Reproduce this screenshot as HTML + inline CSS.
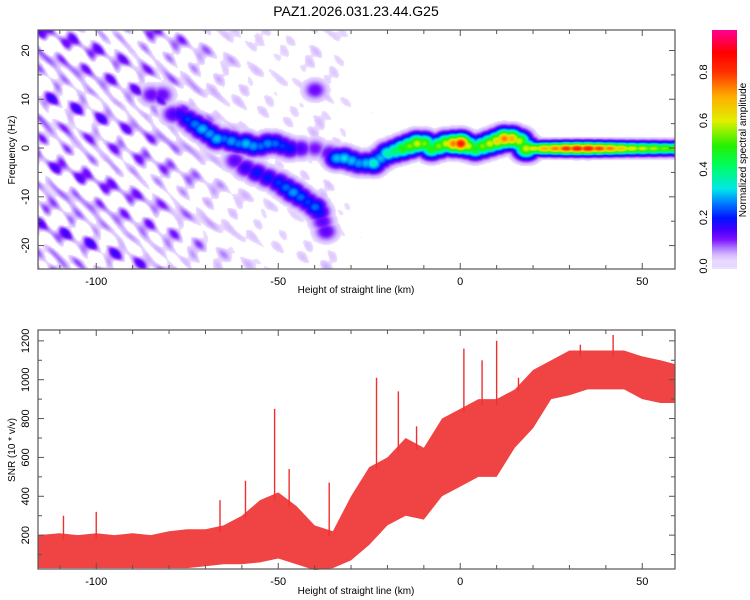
<!DOCTYPE html>
<html><head><meta charset="utf-8"><style>
body{margin:0;background:#fff;width:750px;height:600px;overflow:hidden;font-family:"Liberation Sans",sans-serif}
#wrap{position:relative;width:750px;height:600px}
canvas{position:absolute}
svg{position:absolute;left:0;top:0}
text{font-family:"Liberation Sans",sans-serif;fill:#000}
</style></head><body>
<div id="wrap">
<canvas id="heat" width="637" height="239" style="left:38px;top:30px"></canvas>
<canvas id="cbar" width="25" height="239" style="left:712px;top:30px"></canvas>
<svg id="svg" width="750" height="600"></svg>
</div>
<script>
// ---- data ----
const ridgeH=[-85,-82,-79,-77,-75,-73,-71,-69,-67,-65,-63,-61,-59,-57,-55,-53,-51,-49,-47,-44,-40,-36,-34,-32,-30,-28,-26,-24,-22,-20,-18,-16,-14,-12,-10,-8,-6,-4,-2,0,2,4,6,8,10,12,14,16,18,20,23,26,29,32,35,38,41,44,47,50,53,56,59,-62,-59,-56,-53,-50,-48,-46,-44,-42,-40,-39,-38,-37,-40];
const ridgeF=[11,11,7,7,6,5,4,3,2,2,1.5,1,1,0.5,0.5,1,1,0.5,0,0,0,-1,-2,-2,-2.5,-3,-3,-3,-2,-1,-0.5,0,0.5,1,1,0,0.5,1,1,1,0.5,0,0.5,1,1.5,2,2,1.5,0,0,0,0,0,0,0,0,0,0,0,0,0,0,0,-2.5,-4,-5,-6,-7,-8,-9,-10,-11,-12,-13,-15,-17,12];
const ridgeA=[0.13,0.13,0.15,0.17,0.22,0.26,0.3,0.28,0.3,0.25,0.28,0.26,0.3,0.28,0.25,0.27,0.25,0.22,0.2,0.15,0.12,0.14,0.3,0.32,0.3,0.28,0.3,0.35,0.3,0.38,0.42,0.5,0.55,0.6,0.55,0.5,0.55,0.6,0.75,0.85,0.6,0.5,0.55,0.6,0.65,0.75,0.7,0.6,0.6,0.62,0.7,0.75,0.82,0.85,0.85,0.8,0.75,0.68,0.62,0.6,0.58,0.55,0.55,0.14,0.17,0.2,0.2,0.22,0.25,0.28,0.25,0.22,0.25,0.2,0.14,0.14,0.13];
const hazeH=[-116,-100,-85,-75,-65,-55,-45,-38,-30,-20,0,59];
const hazeLevel=[0.1,0.1,0.09,0.07,0.045,0.03,0.025,0.04,0.015,0.01,0.007,0.007];
const snrH=[-116,-110,-105,-100,-95,-90,-85,-80,-75,-70,-65,-60,-55,-50,-45,-40,-35,-30,-25,-20,-15,-10,-5,0,5,10,15,20,25,30,35,40,45,50,55,59];
const snrLow=[30,30,30,30,30,30,30,30,30,40,50,50,60,80,50,20,30,70,150,250,300,280,400,450,500,500,650,750,900,920,950,950,950,900,880,880];
const snrHigh=[200,210,200,210,200,210,200,220,230,230,250,300,380,420,350,250,220,400,550,600,700,650,800,850,900,900,950,1050,1100,1150,1150,1150,1150,1120,1100,1080];
const spikeH=[-109,-100,-66,-59,-51,-47,-36,-23,-17,-12,1,6,10,16,33,42];
const spikeV=[300,320,380,480,850,540,470,1010,940,760,1160,1100,1200,1010,1180,1230];
const xTicks=[-100,-50,0,50];
const fTicks=[20,10,0,-10,-20];
const snrTicks=[200,400,600,800,1000,1200];
const cbTicks=[0,0.2,0.4,0.6,0.8];
// ---- scales ----
const XL=38,XR=675,X0=-116,X1=59;
const sx=v=>XL+(v-X0)/(X1-X0)*(XR-XL);
const T1=30,B1=269,F0=-24.8,F1=24.2;
const sf=v=>B1-(v-F0)/(F1-F0)*(B1-T1);
const T2=330,B2=569;
const sy=v=>574-v*0.1943;
const sc=v=>266-v*242.5;
const stops=[[0,[255,255,255]],[0.02,[236,222,255]],[0.05,[212,182,255]],[0.08,[165,110,255]],[0.11,[128,20,255]],[0.15,[70,0,255]],[0.2,[0,20,255]],[0.27,[0,140,255]],[0.32,[0,232,232]],[0.42,[0,255,90]],[0.5,[40,240,0]],[0.6,[225,240,0]],[0.7,[255,175,0]],[0.8,[255,50,0]],[0.88,[255,0,0]],[0.97,[255,0,140]]];
function cmap(v){if(v<=0)return stops[0][1];for(let i=1;i<stops.length;i++){if(v<=stops[i][0]){const a=stops[i-1],b=stops[i],t=(v-a[0])/(b[0]-a[0]);return a[1].map((c,k)=>Math.round(c+(b[1][k]-c)*t));}}return stops[stops.length-1][1];}
function lerpArr(hs,vs,h){if(h<=hs[0])return vs[0];for(let i=1;i<hs.length;i++){if(h<=hs[i]){const t=(h-hs[i-1])/(hs[i]-hs[i-1]);return vs[i-1]+(vs[i]-vs[i-1])*t;}}return vs[vs.length-1];}
// heatmap
(function(){const c=document.getElementById('heat'),ctx=c.getContext('2d'),W=c.width,H=c.height,img=ctx.createImageData(W,H);
for(let py=0;py<H;py++){const f=F1-(py/H)*(F1-F0);for(let px=0;px<W;px++){const h=X0+px/W*(X1-X0);let v=0;
for(let i=0;i<ridgeH.length;i++){const wide=ridgeH[i]>18;const dx=(h-ridgeH[i])/(wide?3.0:2.2),df=(f-ridgeF[i])/(wide?0.9:1.4);const g=ridgeA[i]*Math.exp(-(dx*dx+df*df)/2);if(g>v)v=g;}
const lv=lerpArr(hazeH,hazeLevel,h);
const t=(Math.sin(px*0.23+py*0.07)+Math.sin(py*0.29-px*0.11+1.7)+Math.sin((px+py)*0.17+0.6)+Math.sin(px*0.41-py*0.37+2.3)+Math.sin(px*0.067-py*0.19+0.9))/5;
const hz=lv*Math.max(0,t+0.2)*1.5;if(hz>v)v=hz;
const col=v<0.02?[255,255,255]:cmap(v);const o=(py*W+px)*4;img.data[o]=col[0];img.data[o+1]=col[1];img.data[o+2]=col[2];img.data[o+3]=255;}}
ctx.putImageData(img,0,0);
const cb=document.getElementById('cbar'),cx=cb.getContext('2d');for(let y=0;y<cb.height;y++){const v=(266-(30+y))/242.5;const col=v<0?[235,225,255]:cmap(Math.max(v,0.025));cx.fillStyle=`rgb(${col})`;cx.fillRect(0,y,25,1);}})();
// svg
const svg=document.getElementById('svg');const NS='http://www.w3.org/2000/svg';
function el(tag,attrs,parent){const e=document.createElementNS(NS,tag);for(const k in attrs)e.setAttribute(k,attrs[k]);(parent||svg).appendChild(e);return e;}
function txt(s,x,y,size,anchor,rot,name){const e=el('text',{x:x,y:y,'font-size':size,'text-anchor':anchor||'middle'});if(rot)e.setAttribute('transform',`rotate(-90 ${x} ${y})`);e.textContent=s;


return e;}
// SNR band
let pts=snrH.map((h,i)=>sx(h)+','+sy(snrHigh[i]));for(let i=snrH.length-1;i>=0;i--)pts.push(sx(snrH[i])+','+sy(snrLow[i]));
const band=el('polygon',{points:pts.join(' '),fill:'#ee3030','fill-opacity':'0.9'});


spikeH.forEach((h,i)=>{const base=lerpArr(snrH,snrHigh,h)-30;const s=el('line',{x1:sx(h),x2:sx(h),y1:sy(spikeV[i]),y2:sy(base),stroke:'#ee3030','stroke-width':1.4});

});
// frames and ticks
function frame(top,bot,name){const r=el('rect',{x:XL,y:top,width:XR-XL,height:bot-top,fill:'none',stroke:'#555','stroke-width':1.2});


for(let v=-110;v<=50;v+=10){const x=sx(v),m=v%50===0;const len=m?6:4;el('line',{x1:x,x2:x,y1:bot,y2:bot-len,stroke:'#555'});el('line',{x1:x,x2:x,y1:top,y2:top+len,stroke:'#555'});}}
frame(T1,B1,'spectrogram-frame');frame(T2,B2,'snr-frame');
for(let v=-20;v<=20;v+=5){const y=sf(v),len=v%10===0?6:4;el('line',{x1:XL,x2:XL+len,y1:y,y2:y,stroke:'#555'});el('line',{x1:XR,x2:XR-len,y1:y,y2:y,stroke:'#555'});}
for(let v=100;v<=1200;v+=100){const y=sy(v),len=v%200===0?6:4;el('line',{x1:XL,x2:XL+len,y1:y,y2:y,stroke:'#555'});el('line',{x1:XR,x2:XR-len,y1:y,y2:y,stroke:'#555'});}
xTicks.forEach(v=>{txt(String(v),sx(v),285,11,'middle',0,'x-tick-label');txt(String(v),sx(v),585,11,'middle',0,'x-tick-label');});
fTicks.forEach(v=>txt(String(v),29,sf(v),11,'middle',1,'y-tick-label'));
snrTicks.forEach(v=>txt(String(v),29,sy(v),11,'middle',1,'snr-tick-label'));
cbTicks.forEach(v=>txt(v.toFixed(1),707,sc(v),11,'middle',1,'colorbar-tick-label'));
txt('PAZ1.2026.031.23.44.G25',356,16,14,'middle',0,'chart-title');
txt('Height of straight line (km)',356,293,10,'middle',0,'x-axis-title');
txt('Height of straight line (km)',356,594,10,'middle',0,'x-axis-title-bottom');
txt('Frequency (Hz)',15,150,10,'middle',1,'y-axis-title');
txt('SNR (10 * v/v)',15,450,10,'middle',1,'snr-axis-title');
txt('Normalized spectral amplitude',746,150,10,'middle',1,'colorbar-title');
</script>
</body></html>
